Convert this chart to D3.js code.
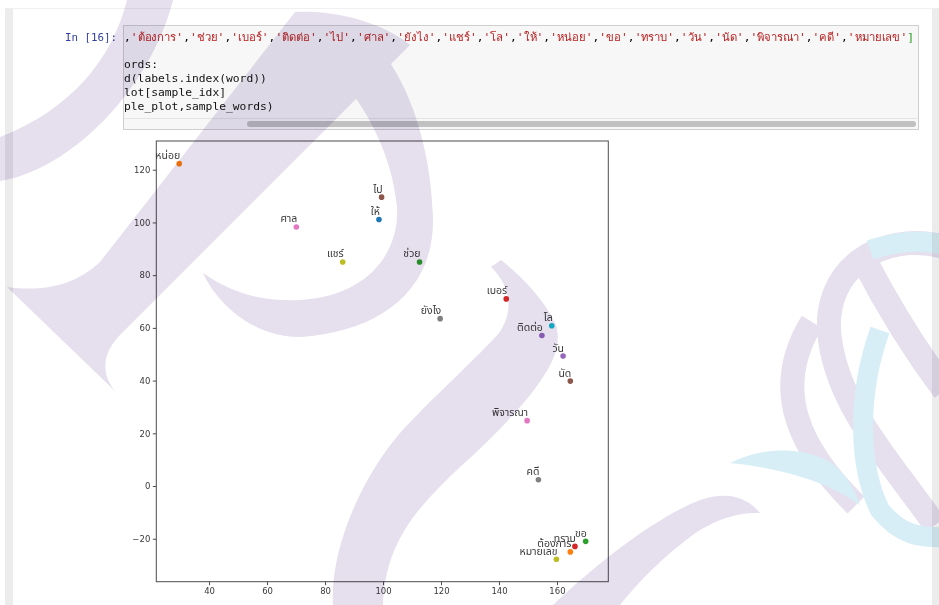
<!DOCTYPE html>
<html lang="th">
<head>
    <meta charset="UTF-8">
    <title>word scatter</title>
    <script src="https://d3js.org/d3.v7.min.js"></script>
    <style>
        body { margin: 0; background: #fff; }
        .tick text { font-family: "DejaVu Sans", sans-serif; font-size: 8.5px; fill: #3a3a3a; }
        .tick line { stroke: #4d4d4d; }
        .mono { font-family: "DejaVu Sans Mono", monospace; }
        .word { font-family: "Noto Sans Thai", "Loma", "Garuda", "DejaVu Sans", sans-serif; font-size: 10.5px; fill: #3a3a3a; }
    </style>
</head>
<body>
<script>
// words from the sample list (the first, blue, entry is scrolled out of view)
const words = ['ต้องการ','ช่วย','เบอร์','ติดต่อ','ไป','ศาล','ยังไง','แชร์','โล','ให้','หน่อย','ขอ','ทราบ','วัน','นัด','พิจารณา','คดี','หมายเลข'];
const xs = [164.6, 112.6, 142.5, 154.8, 99.5, 70.1, 119.7, 86.1, 158.2, 98.6, 29.7, 169.9, 166.2, 162.1, 164.6, 149.7, 153.6, 159.8];
const ys = [-25.0, 85.0, 71.0, 57.1, 109.6, 98.3, 63.5, 85.0, 60.8, 101.1, 122.3, -21.0, -22.9, 49.3, 39.8, 24.8, 2.4, -27.8];
const xTicks = [40, 60, 80, 100, 120, 140, 160];
const yTicks = [-20, 0, 20, 40, 60, 80, 100, 120];

const codeLines = ["ords:", "d(labels.index(word))", "lot[sample_idx]", "ple_plot,sample_words)"];

const W = 939, H = 605;
const svg = d3.select("body").append("svg").attr("width", W).attr("height", H);

// notebook frame
svg.append("rect").attr("width", W).attr("height", H).attr("fill", "#fff");
svg.append("rect").attr("x", 5).attr("y", 8).attr("width", 8).attr("height", H).attr("fill", "#ececec");
svg.append("rect").attr("x", 932).attr("y", 8).attr("width", 7).attr("height", H).attr("fill", "#ececec");
svg.append("line").attr("x1", 5).attr("x2", 939).attr("y1", 8.5).attr("y2", 8.5).attr("stroke", "#f0f0f0");

// code cell
svg.append("text").attr("class", "mono").attr("x", 65).attr("y", 41)
    .attr("font-size", 10.8).attr("fill", "#303f9f").text("In [16]:");
svg.append("rect").attr("x", 123.5).attr("y", 25.5).attr("width", 795).attr("height", 104)
    .attr("fill", "#f7f7f7").attr("stroke", "#cfcfcf");
svg.append("line").attr("x1", 124).attr("x2", 918).attr("y1", 118.5).attr("y2", 118.5).attr("stroke", "#e4e4e4");
svg.append("rect").attr("x", 247).attr("y", 121).attr("width", 669).attr("height", 6).attr("rx", 3)
    .attr("fill", "#c1c1c1");

const first = svg.append("text").attr("class", "mono").attr("x", 124).attr("y", 41)
    .attr("font-size", 11.3).attr("textLength", 790).attr("lengthAdjust", "spacing");
words.forEach(w => {
    first.append("tspan").attr("fill", "#000").text(",");
    first.append("tspan").attr("fill", "#ba2121").text("'" + w + "'");
});
first.append("tspan").attr("fill", "#1e9b1e").text("]");

codeLines.forEach((t, i) => {
    svg.append("text").attr("class", "mono").attr("x", 124).attr("y", 68 + 14 * i)
        .attr("font-size", 11.3).attr("fill", "#111").text(t);
});

// scatter plot
const x = d3.scaleLinear().domain([21.8, 177.7]).range([156.3, 608.3]);
const y = d3.scaleLinear().domain([-36.3, 130.9]).range([581.7, 141]);
const minus = d => d < 0 ? "\u2212" + Math.abs(d) : d;

svg.append("g").attr("transform", `translate(0,${y.range()[0]})`)
    .call(d3.axisBottom(x).tickValues(xTicks).tickSize(3.5).tickPadding(2.5))
    .call(g => g.select(".domain").remove());
svg.append("g").attr("transform", `translate(${x.range()[0]},0)`)
    .call(d3.axisLeft(y).tickValues(yTicks).tickSize(3.5).tickPadding(2.5).tickFormat(minus))
    .call(g => g.select(".domain").remove());

svg.append("rect").attr("x", x.range()[0]).attr("y", y.range()[1])
    .attr("width", x.range()[1] - x.range()[0]).attr("height", y.range()[0] - y.range()[1])
    .attr("fill", "none").attr("stroke", "#4d4d4d");

const pts = svg.append("g");
words.forEach((w, i) => {
    const c = d3.schemeCategory10[(i + 1) % 10];
    pts.append("circle").attr("cx", x(xs[i])).attr("cy", y(ys[i])).attr("r", 2.8).attr("fill", c);
    pts.append("text").attr("class", "word").attr("x", x(xs[i]) + 1).attr("y", y(ys[i]) - 4.5)
        .attr("text-anchor", "end").text(w);
});

// background watermark (light lavender / cyan ribbons)
const wm = svg.append("g").style("mix-blend-mode", "multiply").attr("pointer-events", "none");
const lav = "#e5dfee", cya = "#d7eef6";
wm.append("path").attr("fill", lav)
    .attr("d", "M127,0 C112,60 70,110 0,137 L0,181 C70,170 150,90 173,0 Z");
wm.append("path").attr("fill", lav)
    .attr("d", "M295,12 C330,10 380,20 410,45 L120,335 C102,353 100,375 117,393 L7,287 C45,292 75,285 100,262 Z");
wm.append("path").attr("fill", lav)
    .attr("d", "M330,14 C390,30 430,120 433,217 C435,290 380,332 300,337 C250,337 215,300 203,273 C230,292 260,302 300,300 C370,296 400,250 397,207 C392,150 360,95 330,70 Z");
wm.append("path").attr("fill", lav)
    .attr("d", "M491,267 L501,260 C520,275 545,300 556,325 C562,345 552,365 539,383 C520,410 490,440 460,467 C420,505 385,540 383,605 L333,605 C330,550 360,480 400,433 C430,400 480,355 499,333 C515,310 510,285 491,267 Z");
wm.append("path").attr("fill", lav)
    .attr("d", "M553,605 C590,570 650,520 700,500 C725,492 745,495 760,513 C740,512 720,518 700,530 C670,550 640,580 620,605 Z");
wm.append("path").attr("fill", "none").attr("stroke", lav).attr("stroke-width", 24)
    .attr("d", "M812,322 C770,390 800,450 856,505");
wm.append("path").attr("fill", "none").attr("stroke", lav).attr("stroke-width", 24)
    .attr("d", "M945,247 C880,230 820,270 830,340 C840,410 890,460 935,525");
wm.append("path").attr("fill", "none").attr("stroke", lav).attr("stroke-width", 26)
    .attr("d", "M865,262 C890,310 915,350 945,390");
wm.append("path").attr("fill", "none").attr("stroke", cya).attr("stroke-width", 20)
    .attr("d", "M870,250 C900,240 925,240 945,245 M880,330 C855,400 860,470 880,510 C900,535 920,538 945,537");
wm.append("path").attr("fill", cya)
    .attr("d", "M730,463 C760,448 800,445 830,462 C845,472 855,490 860,505 C840,490 800,470 730,463 Z");
</script>
</body>
</html>
